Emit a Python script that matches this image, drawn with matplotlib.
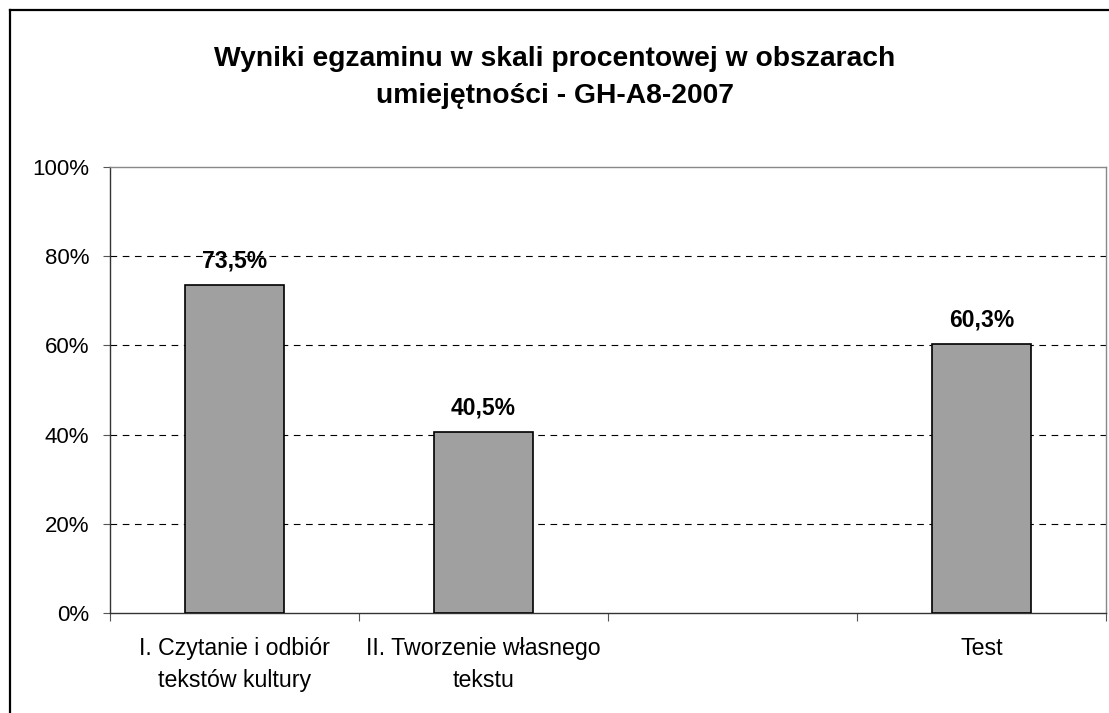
import numpy as np
import matplotlib
matplotlib.use("Agg")
import matplotlib.pyplot as plt
from matplotlib.lines import Line2D

plt.rcParams['font.family'] = ['Liberation Sans', 'DejaVu Sans']

# ---------------------------------------------------
title = "Wyniki egzaminu w skali procentowej w obszarach\numiejętności - GH-A8-2007"
categories = ["I. Czytanie i odbiór\ntekstów kultury", "II. Tworzenie własnego\ntekstu", "", "Test"]
values = [73.5, 40.5, np.nan, 60.3]
value_labels = ["73,5%", "40,5%", "", "60,3%"]
yticks = [0, 20, 40, 60, 80, 100]
# ---------------------------------------------------

fig = plt.figure(figsize=(11.09, 7.13), dpi=100)
ax = fig.add_axes([110 / 1109, 100 / 713, 996 / 1109, 446 / 713])

x = np.arange(len(categories))
ax.bar(x, values, width=0.4, color='#a0a0a0', edgecolor='black', linewidth=1.2, zorder=3)
for xi, v, lab in zip(x, values, value_labels):
    if np.isfinite(v):
        ax.annotate(lab, (xi, v), xytext=(0, 9), textcoords='offset points',
                    ha='center', va='bottom', fontsize=16.5, fontweight='bold')

ax.set_xlim(-0.5, len(categories) - 0.5)
ax.set_ylim(0, 100)
ax.set_yticks(yticks)
ax.set_yticklabels([f"{t}%" for t in yticks], fontsize=16)
for t in yticks[1:-1]:
    ax.axhline(t, color='black', linewidth=0.8, dashes=(6, 5), zorder=1)

ax.set_xticks(np.arange(-0.5, len(categories)), labels=[])
ax.set_xticks(x, labels=categories, minor=True, fontsize=16.7, linespacing=1.5)
ax.tick_params(axis='x', which='major', direction='out', length=6, color='#555555')
ax.tick_params(axis='x', which='minor', length=0, pad=17)
ax.tick_params(axis='y', direction='out', length=5, color='#555555', pad=10)

for side in ['top', 'right']:
    ax.spines[side].set_color('#888888')
    ax.spines[side].set_linewidth(1.0)
for side in ['left', 'bottom']:
    ax.spines[side].set_color('#333333')
    ax.spines[side].set_linewidth(1.0)

fig.suptitle(title, x=0.5, y=1 - 46 / 713, fontsize=20.3, fontweight='bold', linespacing=1.55, va='top')

# outer chart frame (left and top edges only are inside the picture)
fig.add_artist(Line2D([9.5 / 1109, 9.5 / 1109], [0, 1 - 10 / 713], color='black', linewidth=1.6))
fig.add_artist(Line2D([9.5 / 1109, 1], [1 - 10 / 713, 1 - 10 / 713], color='black', linewidth=1.6))

fig.savefig("out.png", dpi=100)
